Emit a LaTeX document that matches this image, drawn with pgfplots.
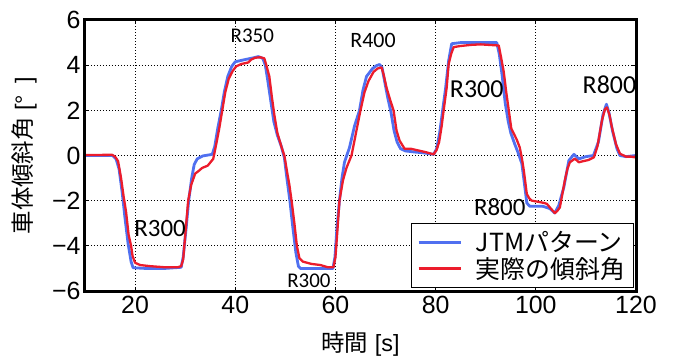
\documentclass[border=0pt]{standalone}
\usepackage{fontspec}
\setmainfont{Liberation Sans}
\newfontfamily\jp{Noto Sans CJK JP}
\newfontfamily\calibri{Carlito}
\usepackage{pgfplots}
\pgfplotsset{compat=1.18}
\definecolor{jtmblue}{RGB}{80,112,240}
\definecolor{actred}{RGB}{236,28,44}
\pgfplotstableread{
x y
10 0
15.5 0
16.2 -0.15
16.8 -0.6
17.4 -1.6
18 -2.8
18.6 -3.9
19.2 -4.7
19.6 -4.97
22 -5
26 -5
29.2 -4.95
29.6 -4.5
30.2 -3.2
30.7 -2
31.3 -1
31.8 -0.4
32.4 -0.15
33.5 -0.02
35.4 0.05
35.9 0.4
36.5 1.2
37.2 2
37.8 2.8
38.5 3.5
39.3 3.95
40 4.15
41 4.2
42 4.25
43.5 4.32
44.6 4.38
45.5 4.3
46 4.0
46.5 3.3
47.1 2.4
47.7 1.5
48.4 0.9
49.2 0.4
49.8 -0.1
50.3 -1
50.9 -2
51.5 -3.2
52.1 -4.3
52.6 -4.9
53 -5
56 -5
59.5 -5
59.9 -4.5
60.3 -3.2
60.8 -2
61.3 -1
61.8 -0.3
62.8 0.35
63.8 1.3
64.8 2
65.5 2.9
66.2 3.5
67.4 3.85
68.2 3.98
68.8 4.03
69.3 3.9
69.8 3.3
70.4 2.6
71.1 1.9
71.7 1.1
72.3 0.6
73 0.3
74 0.2
76 0.15
77.5 0.12
79.6 0.05
80.2 0.3
80.8 1
81.4 2
82 3
82.6 4.2
83.2 4.95
85 5
88 5
90 5
92.2 5
92.7 4.5
93.3 3.5
93.9 2.3
94.5 1.5
95 1
95.8 0.5
96.5 0.1
97.2 -0.35
97.7 -1.2
98.2 -2.1
98.8 -2.25
101.4 -2.25
102.8 -2.35
103.8 -2.55
104.6 -2.2
105.6 -1.4
106.6 -0.22
107.6 0.05
108.6 -0.15
110 -0.05
111.5 0
112.5 0.6
113.4 1.8
114.1 2.27
114.6 1.9
115.3 1.1
116.2 0.3
116.8 0
118 -0.05
120 0
}\jtm
\pgfplotstableread{
x y
10 0.02
15.4 0.03
16 -0.05
16.6 -0.25
17.2 -1.0
17.7 -1.8
18.2 -2.5
18.7 -3.5
19.2 -4.0
19.5 -4.45
20 -4.75
21 -4.85
23 -4.9
26 -4.95
28.5 -4.95
29.2 -4.9
29.6 -4.6
30.1 -3.3
30.6 -2.0
31.2 -1.3
32 -0.8
32.6 -0.7
33.4 -0.55
34.5 -0.45
35.6 -0.15
36.2 0.5
36.8 1.2
37.4 2
38 2.8
38.7 3.4
39.5 3.75
40.2 3.95
41.2 4.05
42.6 4.12
43.2 4.25
44 4.33
45 4.35
45.8 4.3
46.2 4.0
46.8 3.5
47.3 2.6
47.8 1.8
48.4 1.0
49.2 0.4
49.8 0
50.4 -0.8
50.8 -1.3
51.3 -2.1
51.8 -3.0
52.3 -4.0
52.8 -4.55
53.5 -4.7
55.2 -4.8
57 -4.85
58.5 -4.95
59.6 -4.95
60 -4.5
60.3 -3.6
60.8 -2
61.5 -1.1
62.2 -0.55
63.2 0
64.1 1
65 2
65.8 2.8
66.6 3.3
67.6 3.7
68.4 3.85
69.2 3.9
69.6 3.6
70.2 3.0
71 2.4
71.6 2.0
72.2 1.1
72.8 0.66
73.8 0.3
75 0.3
76.6 0.22
78 0.15
79.6 0.05
80.2 0.25
80.7 0.6
81.2 1.3
81.6 2.0
82.2 3.0
82.6 4.05
83.1 4.5
83.6 4.8
85 4.85
87.2 4.9
89 4.92
92.6 4.87
93.1 4.3
93.6 3.7
94.1 2.8
94.6 2.0
95.1 1.2
95.6 0.97
96.2 0.7
96.8 0.35
97.2 -0.1
97.6 -0.66
98.2 -1.7
98.7 -1.9
99.2 -2.0
100.5 -2.05
101.6 -2.1
102.2 -2.14
103 -2.35
103.8 -2.55
104.3 -2.45
104.8 -2.3
105.3 -1.7
105.8 -1.1
106.3 -0.6
106.8 -0.3
107.8 -0.14
108.6 -0.3
109.5 -0.25
110.5 -0.2
111.6 -0.08
112.3 0.4
113.2 1.55
113.8 2.05
114.2 2.13
114.7 1.8
115.2 1.24
116 0.5
116.8 0.08
118 -0.05
119 -0.05
119.8 -0.08
120 0
}\actual
\begin{document}
\begin{tikzpicture}
\path[use as bounding box] (-85bp,-67bp) rectangle (590bp,291bp);
\begin{axis}[
  at={(0,0)}, anchor=south west,
  scale only axis, width=551bp, height=271bp,
  xmin=10, xmax=120, ymin=-6, ymax=6,
  xtick={20,40,60,80,100,120},
  ytick={-6,-4,-2,0,2,4,6},
  yticklabels={−6,−4,−2,0,2,4,6},
  /pgf/number format/assume math mode=true,
  tick label style={font=\fontsize{25}{28}\selectfont},
  xticklabel style={yshift=-2bp},
  yticklabel style={xshift=-1bp},
  grid=major,
  major grid style={black, line width=0.9bp, dash pattern=on 1.4bp off 1.6bp},
  axis line style={draw=black, line width=3bp},
  tick style={black, line width=0.9bp},
  major tick length=4bp,
  tick align=inside,
  tick pos=both,
  xlabel={{\jp 時間} [s]},
  ylabel={{\jp 車体傾斜角} [°\hspace{0.5em}]},
  label style={font=\fontsize{23.5}{27}\selectfont},
  xlabel style={at={(axis description cs:0.5,-0.1956)}, anchor=center},
  ylabel style={at={(axis description cs:-0.11,0.5)}, anchor=center},
  legend style={at={(rel axis cs:0.996,0.011)}, anchor=south east,
    draw=black, line width=0.8bp, fill=white,
    font=\fontsize{25}{28}\selectfont,
    inner xsep=6bp, inner ysep=6bp,
    row sep=0bp},
  legend cell align=left,
  legend image code/.code={\draw[#1] (0bp,0bp) -- (42bp,0bp); \path (54bp,0bp);},
  clip=false,
]
\addplot[jtmblue, line width=2.8bp, line join=round] table[x=x,y=y]{\jtm};
\addlegendentry{\jp JTMパターン}
\addplot[actred, line width=2.3bp, line join=round] table[x=x,y=y]{\actual};
\addlegendentry{\jp 実際の傾斜角\hspace{20bp}}
\draw[draw=black, line width=3bp, line cap=rect] (rel axis cs:0,0) rectangle (rel axis cs:1,1);
\node[font=\calibri\fontsize{25}{28}\selectfont] at (axis cs:25,-3.23) {R300};
\node[font=\calibri\fontsize{21}{24}\selectfont] at (axis cs:43.4,5.3) {R350};
\node[font=\calibri\fontsize{22}{25}\selectfont] at (axis cs:67.5,5.1) {R400};
\node[font=\calibri\fontsize{21}{24}\selectfont] at (axis cs:54.7,-5.55) {R300};
\node[font=\calibri\fontsize{26}{29}\selectfont] at (axis cs:88.2,2.92) {R300};
\node[font=\calibri\fontsize{25}{28}\selectfont] at (axis cs:92.8,-2.28) {R800};
\node[font=\calibri\fontsize{26}{29}\selectfont] at (axis cs:114.7,3.14) {R800};
\end{axis}
\end{tikzpicture}
\end{document}
